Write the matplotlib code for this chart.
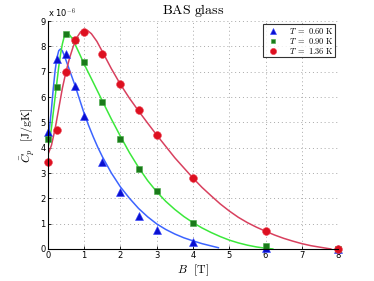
import matplotlib.pyplot as plt

plt.rcParams['mathtext.fontset'] = 'cm'

# measured points, C_p in units of 1e-6 J/gK
b_pts = [0, 0.25, 0.5, 0.75, 1.0, 1.5, 2.0, 2.5, 3.0, 4.0, 6.0, 8.0]
cp_060 = [4.6, 7.5, 7.7, 6.45, 5.25, 3.43, 2.23, 1.29, 0.75, 0.26, 0.03, 0.0]
cp_090 = [4.35, 6.4, 8.5, 8.25, 7.4, 5.8, 4.35, 3.14, 2.27, 1.04, 0.13, 0.0]
cp_136 = [3.44, 4.68, 7.0, 8.26, 8.57, 7.71, 6.5, 5.47, 4.49, 2.8, 0.72, 0.0]

# fitted curves
b_fit_060 = [0, 0.05, 0.1, 0.15, 0.2, 0.25, 0.3, 0.35, 0.4, 0.45, 0.5, 0.6, 0.75,
             0.875, 1.0, 1.125, 1.25, 1.375, 1.5, 1.75, 2.0, 2.25, 2.5, 2.75, 3.0,
             3.25, 3.5, 3.75, 4.0, 4.25, 4.5, 4.7]
fit_060 = [4.4, 4.85, 5.55, 6.35, 7.05, 7.55, 7.83, 7.9, 7.82, 7.65, 7.45, 7.05, 6.45,
           5.9, 5.35, 4.87, 4.43, 4.02, 3.65, 3.0, 2.45, 2.0, 1.6, 1.27, 0.99,
           0.77, 0.59, 0.44, 0.32, 0.21, 0.12, 0.05]
b_fit_090 = [0, 0.05, 0.1, 0.15, 0.2, 0.25, 0.3, 0.35, 0.4, 0.45, 0.5, 0.55, 0.6,
             0.675, 0.75, 0.875, 1.0, 1.25, 1.5, 1.75, 2.0, 2.25, 2.5, 2.75, 3.0,
             3.25, 3.5, 3.75, 4.0, 4.25, 4.5, 4.75, 5.0, 5.25, 5.5, 5.75, 6.0, 6.2]
fit_090 = [4.0, 4.3, 4.8, 5.4, 6.0, 6.6, 7.2, 7.7, 8.1, 8.38, 8.52, 8.52, 8.45,
           8.3, 8.08, 7.7, 7.3, 6.58, 5.85, 5.13, 4.45, 3.8, 3.22, 2.7, 2.26,
           1.88, 1.56, 1.28, 1.04, 0.83, 0.65, 0.49, 0.35, 0.24, 0.15, 0.08, 0.03, 0.0]
b_fit_136 = [0, 0.1, 0.2, 0.3, 0.4, 0.5, 0.6, 0.7, 0.8, 0.9, 1.0, 1.1, 1.2, 1.35,
             1.5, 1.75, 2.0, 2.25, 2.5, 2.75, 3.0, 3.25, 3.5, 3.75, 4.0, 4.25, 4.5,
             4.75, 5.0, 5.25, 5.5, 5.75, 6.0, 6.25, 6.5, 6.75, 7.0, 7.25, 7.5, 7.8]
fit_136 = [3.72, 4.1, 4.75, 5.55, 6.35, 7.0, 7.55, 8.0, 8.35, 8.57, 8.65, 8.62, 8.5,
           8.2, 7.8, 7.12, 6.5, 5.95, 5.45, 4.97, 4.5, 4.05, 3.6, 3.2, 2.8, 2.43,
           2.1, 1.78, 1.5, 1.25, 1.04, 0.86, 0.7, 0.55, 0.42, 0.31, 0.21, 0.13,
           0.07, 0.0]

labels = ['$T\\ =\\ 0.60\\ \\mathrm{K}$', '$T\\ =\\ 0.90\\ \\mathrm{K}$',
          '$T\\ =\\ 1.36\\ \\mathrm{K}$']

fig = plt.figure(figsize=(3.74, 2.81), dpi=100)
ax = fig.add_axes([0.128, 0.114, 0.776, 0.811])

ax.plot(b_fit_060, fit_060, color='#3c64ff', lw=1.1)
ax.plot(b_fit_090, fit_090, color='#3be83b', lw=1.1)
ax.plot(b_fit_136, fit_136, color='#d8405e', lw=1.1)

ax.plot(b_pts, cp_060, '^', color='#0a10d0', ms=5.3, mec='#3040ff', mew=0.4,
        label=labels[0], clip_on=False)
ax.plot(b_pts, cp_090, 's', color='#1a7a1a', ms=4.2, mec='#44aa44', mew=0.4,
        label=labels[1], clip_on=False)
ax.plot(b_pts, cp_136, 'o', color='#dd1020', ms=5.6, mec='#ee4050', mew=0.4,
        label=labels[2], clip_on=False)

ax.set_xlim(0, 8)
ax.set_ylim(0, 9)
ax.set_xticks(range(0, 9))
ax.set_yticks(range(0, 10))
ax.grid(True, ls=(0, (1, 3)), color='#a8a8a8', lw=0.7)
ax.tick_params(direction='in', length=2, labelsize=6, pad=1.5, width=0.6)
ax.spines['top'].set_visible(False)
ax.spines['right'].set_visible(False)
for s in ['left', 'bottom']:
    ax.spines[s].set_linewidth(0.8)

ax.set_title('$\\mathrm{BAS\\ glass}$', fontsize=10, pad=5)
ax.set_xlabel('$B$  $[\\mathrm{T}]$', fontsize=8.5, labelpad=2)
ax.set_ylabel('$\\bar{C}_p$  $[\\mathrm{J/gK}]$', fontsize=8.5, labelpad=2)
ax.text(0.0, 1.01, 'x 10$^{-6}$', transform=ax.transAxes, fontsize=6,
        ha='left', va='bottom', family='DejaVu Sans')

leg = ax.legend(loc='upper right', fontsize=6, frameon=True, fancybox=False,
                edgecolor='black', borderpad=0.15, labelspacing=0.0,
                handletextpad=0.8, borderaxespad=0.4, handlelength=2.2,
                markerscale=0.8)
leg.get_frame().set_linewidth(0.8)

fig.savefig('out.png', dpi=100)
